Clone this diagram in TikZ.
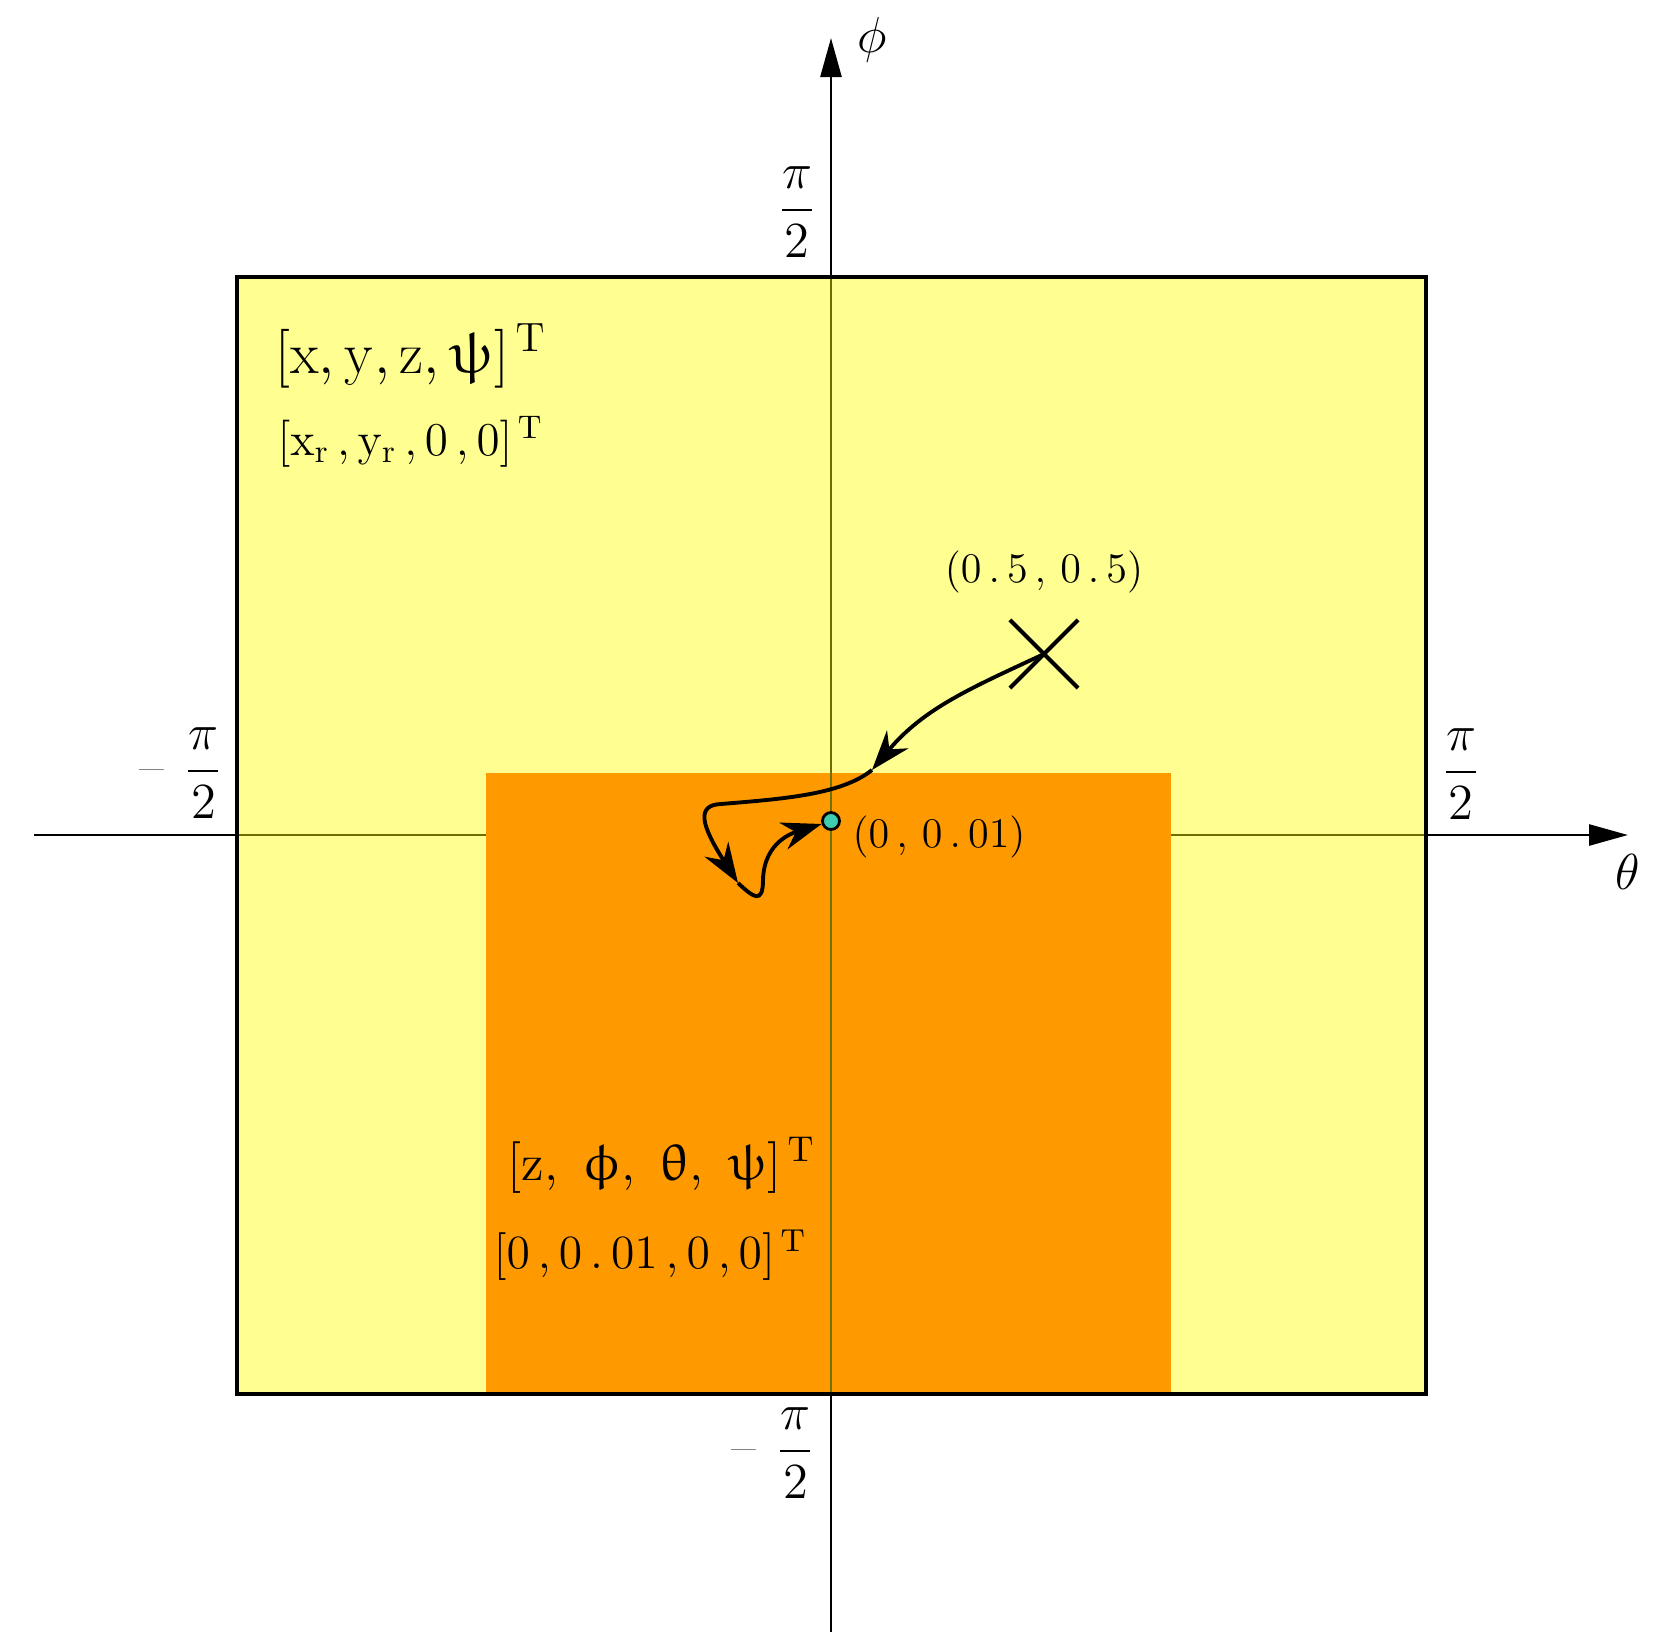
\documentclass[tikz,border=0pt]{standalone}
\usepackage{graphicx}
\usepackage{amsmath}
\usepackage{upgreek}
\usetikzlibrary{arrows.meta,shapes.misc}
\definecolor{lightyel}{RGB}{255,255,0}
\definecolor{orng}{RGB}{255,153,0}
\definecolor{axolive}{RGB}{110,115,0}
\definecolor{dotcol}{RGB}{64,204,176}
\begin{document}
\begin{tikzpicture}[axis/.style={line width=0.75pt,-{Triangle[length=3.9mm,width=2.1mm]}},
  traj/.style={line width=1.1pt,-{Stealth[length=4mm,width=2.8mm]}}]
\useasboundingbox (-8.31,-8.12) rectangle (8.31,8.35);
\coordinate (w) at (-7.97,0);
\coordinate (e) at (7.97,0);
\coordinate (s) at (0,-7.97);
\coordinate (n) at (0,7.97);
\draw[axis] (w) -- (e);
\draw[axis] (s) -- (n);
% regions
\fill[lightyel, fill opacity=0.43] (-5.94,-5.59) rectangle (5.95,5.58);
\fill[orng] (-3.45,-5.59) rectangle (3.40,0.62);
\draw[axolive, line width=0.7pt] (0,-5.59) -- (0,0.62);
\draw[line width=1.1pt] (-5.94,-5.59) rectangle (5.95,5.58);
% axis labels
\node (th) at (7.97,-0.37) {\Large $\theta$};
\node (ph) at (0.41,7.95) {\Large $\phi$};
\node (top) at (-0.34,6.23) {\Large $\dfrac{\pi}{2}$};
\node (bot) at (-0.58,-6.18) {\Large\textcolor{gray}{--}\hspace{2mm}$\dfrac{\pi}{2}$};
\node (lft) at (-6.50,0.62) {\Large\textcolor{gray}{--}\hspace{2mm}$\dfrac{\pi}{2}$};
\node (rgt) at (6.30,0.61) {\Large $\dfrac{\pi}{2}$};
% states
\node[anchor=west, inner sep=0] (s1) at (-5.56,4.79) {\scalebox{0.97}{\LARGE $[\mathrm{x},\mathrm{y},\mathrm{z},\uppsi]^{\,\mathrm{T}}$}};
\node[anchor=west, inner sep=0] (s2) at (-5.54,3.93) {\scalebox{0.93}{\Large $[\mathrm{x_r}\,,\mathrm{y_r}\,,0\,,0]^{\,\mathrm{T}}$}};
\node[anchor=west, inner sep=0] (s3) at (-3.24,-3.30) {\scalebox{1.02}{\Large $[\mathrm{z},\ \upphi,\ \uptheta,\ \uppsi]^{\,\mathrm{T}}$}};
\node[anchor=west, inner sep=0] (s4) at (-3.38,-4.20) {\scalebox{1.13}{\large $[0\,,0\,.\,01\,,0\,,0]^{\,\mathrm{T}}$}};
% points
\node[cross out, draw, line width=1.2pt, minimum size=6.4mm, inner sep=0] (goal) at (2.13,1.81) {};
\node (gl) at (2.13,2.63) {\large $(0\,.\,5\,,\,0\,.\,5)$};
\node[circle, draw, fill=dotcol, inner sep=0, minimum size=1.7mm, line width=0.8pt] (start) at (0,0.14) {};
\node[anchor=west, inner sep=0] (sl) at (0.21,-0.02) {\large $(0\,,\,0\,.\,01)$};
% trajectory
\coordinate (a) at (0.41,0.65);
\coordinate (b) at (-0.93,-0.48);
\draw[traj] (goal.center) to[out=205,in=50] (a);
\draw[traj] (a) .. controls (0.1,0.40) and (-0.5,0.36) .. (-1.1,0.31) .. controls (-1.35,0.30) and (-1.3,0.1) .. (b);
\draw[traj] (b) .. controls (-0.78,-0.62) and (-0.68,-0.70) .. (-0.68,-0.45) .. controls (-0.67,-0.05) and (-0.35,0.03) .. (start);
\end{tikzpicture}
\end{document}
